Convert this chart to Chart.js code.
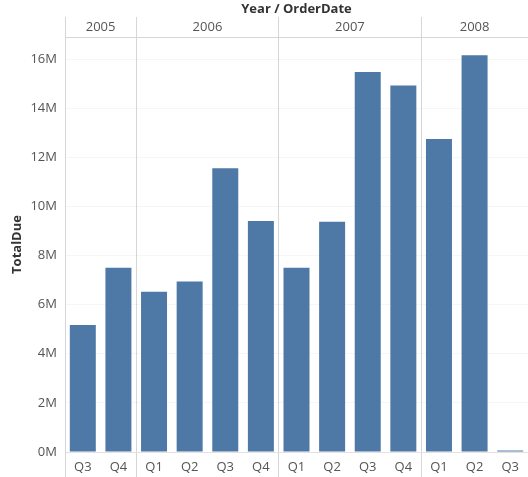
<!DOCTYPE html>
<html>
<head>
<meta charset="utf-8">
<script src="https://cdn.jsdelivr.net/npm/chart.js@4"></script>
<style>
  body { margin: 0; background: #fff; }
  #wrap { width: 528px; height: 477px; }
</style>
</head>
<body>
<div id="wrap"><canvas id="sales" width="528" height="477"></canvas></div>
<script>
// data
const quarters = ['Q3', 'Q4', 'Q1', 'Q2', 'Q3', 'Q4', 'Q1', 'Q2', 'Q3', 'Q4', 'Q1', 'Q2', 'Q3'];
const years = ['2005', '2006', '2007', '2008'];
const quartersPerYear = [2, 4, 4, 3];
const totalDue = [5.17e6, 7.50e6, 6.53e6, 6.94e6, 11.56e6, 9.41e6, 7.50e6, 9.38e6, 15.47e6, 14.92e6, 12.75e6, 16.16e6, 0.06e6];
const yTicks = [0, 2e6, 4e6, 6e6, 8e6, 10e6, 12e6, 14e6, 16e6];

// year boundaries / centres in quarter units
const bounds = [0];
quartersPerYear.forEach(n => bounds.push(bounds[bounds.length - 1] + n));
const centres = years.map((y, i) => (bounds[i] + bounds[i + 1]) / 2);

const lineGray = '#d6d6d6';
const textGray = '#555';
Chart.defaults.font.family = "'Open Sans', 'Noto Sans', sans-serif";
Chart.defaults.font.size = 13;

new Chart(document.getElementById('sales'), {
  type: 'bar',
  data: {
    labels: quarters,
    datasets: [{
      data: totalDue,
      backgroundColor: '#4e79a7',
      barPercentage: 0.73,
      categoryPercentage: 1
    }]
  },
  options: {
    responsive: false,
    animation: false,
    layout: { padding: 0 },
    plugins: { legend: { display: false }, tooltip: { enabled: false } },
    scales: {
      x: {
        position: 'bottom',
        grid: {
          offset: true,
          drawOnChartArea: false,
          tickLength: 25,
          color: ctx => bounds.includes(ctx.index) ? lineGray : 'rgba(0,0,0,0)',
          tickColor: ctx => bounds.includes(ctx.index) ? lineGray : 'rgba(0,0,0,0)'
        },
        border: { display: true, color: '#e2e2e2' },
        ticks: { color: textGray, padding: -18, maxRotation: 0, autoSkip: false },
        afterFit: s => { s.height = 25; }
      },
      x2: {
        type: 'linear',
        position: 'top',
        offset: false,
        min: 0,
        max: bounds[bounds.length - 1],
        afterBuildTicks: s => {
          s.ticks = bounds.concat(centres).sort((a, b) => a - b).map(v => ({ value: v }));
        },
        grid: {
          offset: false,
          tickLength: 20,
          color: ctx => bounds.includes(ctx.tick && ctx.tick.value) ? lineGray : 'rgba(0,0,0,0)',
          tickColor: ctx => bounds.includes(ctx.tick && ctx.tick.value) ? lineGray : 'rgba(0,0,0,0)'
        },
        border: { display: true, color: lineGray },
        ticks: {
          color: textGray,
          padding: -18,
          autoSkip: false,
          maxRotation: 0,
          callback: v => {
            const i = centres.indexOf(v);
            return i >= 0 ? years[i] : '';
          }
        },
        title: {
          display: true,
          text: 'Year / OrderDate',
          color: '#333',
          font: { weight: 'bold', size: 13 },
          padding: { top: 1, bottom: 0 }
        },
        afterFit: s => { s.height = 37; }
      },
      y: {
        min: 0,
        max: 16.9e6,
        afterBuildTicks: s => { s.ticks = yTicks.map(v => ({ value: v })); },
        grid: { color: 'rgba(0,0,0,0.035)', drawTicks: false },
        border: { display: true, color: lineGray },
        ticks: {
          color: textGray,
          padding: 8,
          callback: v => (v / 1e6) + 'M'
        },
        title: {
          display: true,
          text: 'TotalDue',
          color: '#333',
          font: { weight: 'bold', size: 13 },
          padding: { top: 9, bottom: 0 }
        },
        afterFit: s => { s.width = 65; }
      }
    }
  }
});
</script>
</body>
</html>
